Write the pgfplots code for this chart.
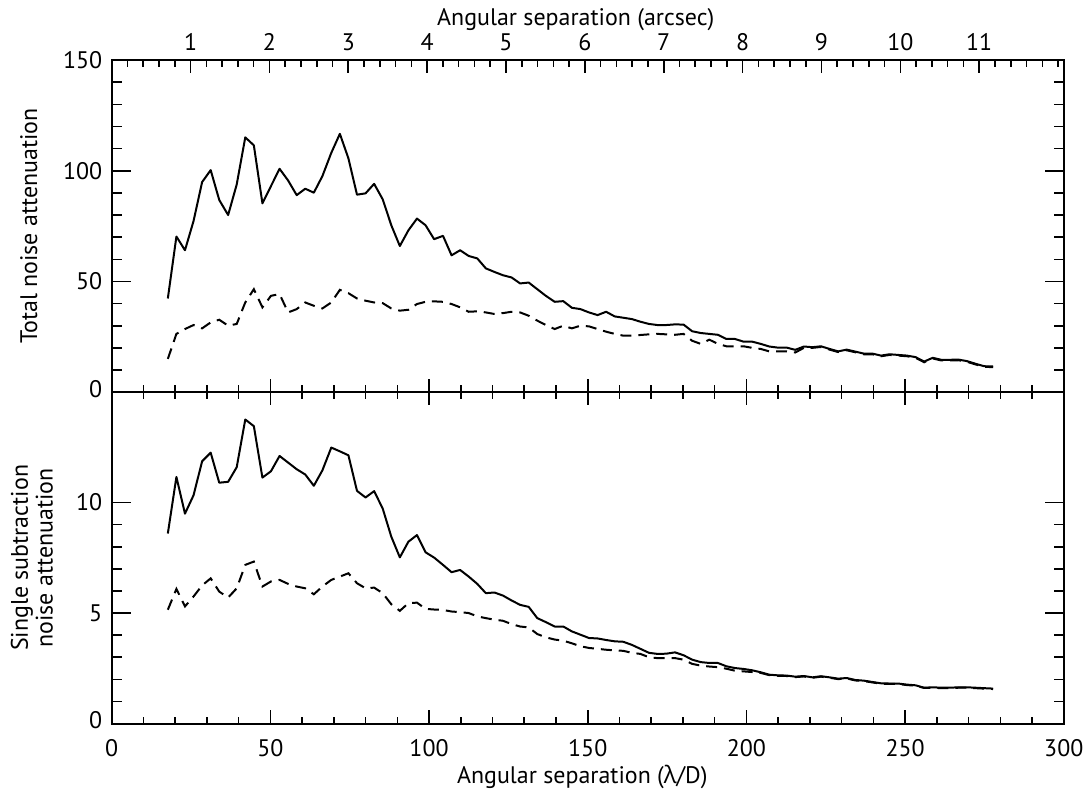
\documentclass[border=0pt]{standalone}
\usepackage{fontspec}
\setmainfont{PT Sans}
\newfontfamily\grfont{Open Sans}
\usepackage{pgfplots}
\usepackage{pgfplotstable}
\pgfplotsset{compat=1.18}

\pgfplotstableread{
x s d
17.7 42.3 15.0
20.4 70.3 26.3
23.1 64.1 28.5
25.8 77.3 30.3
28.5 94.9 28.8
31.2 100.3 31.5
33.9 86.8 32.7
36.7 80.0 30.0
39.4 93.8 30.8
42.1 115.1 40.5
44.8 111.5 46.5
47.5 85.3 38.3
50.2 93.1 43.5
52.9 100.9 44.3
55.6 95.6 36.0
58.3 89.0 37.5
61.0 91.9 40.5
63.7 90.1 39.0
66.4 97.6 37.8
69.2 108.1 40.5
71.9 116.7 46.2
74.6 105.6 44.7
77.3 89.2 42.3
80.0 89.8 41.3
82.7 94.1 40.5
85.4 87.1 40.2
88.1 75.4 37.8
90.8 66.0 36.8
93.5 73.1 37.2
96.2 78.4 39.8
98.9 75.4 40.8
101.6 69.1 41.0
104.4 70.6 40.8
107.1 61.8 39.8
109.8 64.1 38.3
112.5 61.5 36.3
115.2 60.4 36.5
117.9 55.9 36.0
120.6 54.3 35.3
123.3 52.8 35.7
126.0 51.8 36.3
128.7 49.1 36.0
131.4 49.5 34.5
134.1 46.5 32.3
136.8 43.5 30.3
139.6 40.8 28.5
142.3 41.1 30.0
145.0 38.1 28.8
147.7 37.5 30.0
150.4 36.0 29.7
153.1 34.8 28.5
155.8 36.3 27.3
158.5 34.2 26.3
161.2 33.6 25.5
163.9 33.0 25.5
166.6 31.8 25.8
169.3 30.8 26.1
172.0 30.3 26.3
174.7 30.3 26.1
177.5 30.6 25.9
180.2 30.5 26.3
182.9 27.5 23.2
185.6 26.7 21.8
188.3 26.3 23.7
191.0 25.9 21.8
193.7 24.0 20.7
196.4 24.0 20.7
199.1 22.8 20.7
201.8 22.8 20.0
204.5 21.8 19.5
207.2 20.6 18.4
209.9 20.1 18.4
212.7 20.1 18.4
215.4 19.1 17.9
218.1 20.6 20.0
220.8 20.3 20.0
223.5 20.7 20.4
226.2 19.5 19.2
228.9 18.4 18.1
231.6 19.2 18.9
234.3 18.3 18.0
237.0 17.4 17.1
239.7 17.4 17.1
242.4 16.5 16.2
245.1 17.1 16.8
247.8 16.8 16.5
250.6 16.5 16.2
253.3 15.8 15.5
256.0 13.8 13.5
258.7 15.5 15.2
261.4 14.6 14.3
264.1 14.6 14.3
266.8 14.7 14.4
269.5 14.0 13.7
272.2 12.8 12.5
274.9 11.7 11.4
277.7 11.6 11.3
}\toptable

\pgfplotstableread{
x s d
17.7 8.60 5.15
20.4 11.16 6.09
23.1 9.50 5.30
25.8 10.33 5.75
28.5 11.87 6.25
31.2 12.26 6.57
33.9 10.90 5.97
36.7 10.94 5.70
39.4 11.60 6.12
42.1 13.76 7.18
44.8 13.46 7.33
47.5 11.13 6.20
50.2 11.42 6.43
52.9 12.11 6.50
55.6 11.81 6.32
58.3 11.51 6.20
61.0 11.27 6.12
63.7 10.76 5.85
66.4 11.46 6.20
69.2 12.49 6.50
71.9 12.32 6.65
74.6 12.14 6.80
77.3 10.53 6.35
80.0 10.23 6.12
82.7 10.52 6.15
85.4 9.73 5.90
88.1 8.46 5.40
90.8 7.52 5.10
93.5 8.23 5.45
96.2 8.53 5.47
98.9 7.75 5.19
101.6 7.51 5.16
104.4 7.18 5.14
107.1 6.85 5.07
109.8 6.95 5.04
112.5 6.65 5.00
115.2 6.32 4.85
117.9 5.90 4.77
120.6 5.93 4.70
123.3 5.79 4.65
126.0 5.57 4.50
128.7 5.37 4.39
131.4 5.28 4.35
134.1 4.77 4.05
136.8 4.59 3.90
139.6 4.39 3.80
142.3 4.39 3.75
145.0 4.17 3.63
147.7 4.02 3.50
150.4 3.87 3.42
153.1 3.85 3.38
155.8 3.78 3.34
158.5 3.72 3.31
161.2 3.70 3.29
163.9 3.56 3.20
166.6 3.38 3.15
169.3 3.20 3.00
172.0 3.15 2.96
174.7 3.16 2.96
177.5 3.22 2.96
180.2 3.09 2.89
182.9 2.89 2.70
185.6 2.78 2.62
188.3 2.74 2.58
191.0 2.74 2.55
193.7 2.59 2.48
196.4 2.51 2.39
199.1 2.47 2.36
201.8 2.41 2.33
204.5 2.32 2.29
207.2 2.21 2.19
209.9 2.18 2.16
212.7 2.17 2.15
215.4 2.12 2.10
218.1 2.15 2.13
220.8 2.09 2.07
223.5 2.14 2.12
226.2 2.09 2.07
228.9 2.03 2.01
231.6 2.06 2.04
234.3 1.97 1.95
237.0 1.94 1.92
239.7 1.88 1.86
242.4 1.82 1.80
245.1 1.81 1.79
247.8 1.81 1.79
250.6 1.76 1.74
253.3 1.73 1.71
256.0 1.62 1.61
258.7 1.64 1.62
261.4 1.62 1.60
264.1 1.62 1.60
266.8 1.64 1.62
269.5 1.64 1.62
272.2 1.62 1.60
274.9 1.60 1.58
277.7 1.58 1.56
}\bottable

\pgfplotsset{
  panel/.style={
    scale only axis, width=477.5pt,
    xmin=0, xmax=300,
    axis line style={line width=1pt},
    tick align=inside,
    every tick/.style={black, line width=0.8pt},
    xtick style={/pgfplots/major tick length=6.6pt,/pgfplots/minor tick length=3.4pt},
    ytick style={/pgfplots/major tick length=9.5pt,/pgfplots/minor tick length=5pt},
    xtick={0,50,...,300}, minor x tick num=4,
    minor y tick num=4,
    ticklabel style={font=\fontsize{12}{14}\selectfont},
    /pgf/number format/assume math mode=true,
    yticklabel style={anchor=east, inner sep=0pt, xshift=-4.5pt},
    clip=false,
  },
  solidline/.style={black, line width=1pt, line join=round},
  dashline/.style={black, line width=1pt, dash pattern=on 5.5pt off 3.5pt},
}

\begin{document}
\begin{tikzpicture}
% bottom panel
\begin{axis}[panel, at={(0,0)}, anchor=south west, height=166.2pt,
  ymin=0, ymax=15, ytick={0,5,10},
  yticklabels={\raisebox{3.7pt}{0},5,10},
  xticklabel style={anchor=base, yshift=-16.6pt},
  xlabel={Angular separation ({\grfont λ}/D)},
  every axis x label/.style={at={(axis description cs:0.5,0)}, yshift=-30.2pt, xshift=-2.7pt, anchor=base, font=\fontsize{12}{14}\selectfont},
  ylabel={Single subtraction\\noise attenuation},
  every axis y label/.style={at={(axis description cs:0,0.5)}, xshift=-40pt, rotate=90, anchor=center, align=center, font=\fontsize{12}{12.5}\selectfont},
]
\addplot[solidline] table[x=x, y=s] {\bottable};
\addplot[dashline] table[x=x, y=d] {\bottable};
\end{axis}
% top panel
\begin{axis}[panel, at={(0,166.2pt)}, anchor=south west, height=166.5pt,
  ymin=0, ymax=150, ytick={0,50,100,150},
  yticklabels={\raisebox{3.5pt}{0},50,100,\raisebox{-4pt}{150}},
  xtick pos=bottom, xticklabels={},
  ylabel={Total noise attenuation},
  every axis y label/.style={at={(axis description cs:0,0.5)}, xshift=-41.5pt, rotate=90, anchor=center, font=\fontsize{12}{14}\selectfont},
]
\addplot[solidline] table[x=x, y=s] {\toptable};
\addplot[dashline] table[x=x, y=d] {\toptable};
\end{axis}
% top arcsec axis
\begin{axis}[at={(0,166.2pt)}, anchor=south west, scale only axis,
  width=477.5pt, height=166.5pt,
  xmin=0, xmax=300, ymin=0, ymax=1,
  axis x line*=top, axis y line=none,
  axis line style={line width=1pt},
  tick align=inside,
  every tick/.style={black, line width=0.8pt},
  major tick length=6.6pt, minor tick length=3.4pt,
  xtick={24.85,49.7,74.55,99.4,124.25,149.1,173.95,198.8,223.65,248.5,273.35},
  xticklabels={1,2,3,4,5,6,7,8,9,10,11},
  minor xtick={4.97,9.94,...,299},
  ticklabel style={font=\fontsize{12}{14}\selectfont},
  xticklabel style={anchor=base, yshift=4.6pt},
  xlabel={Angular separation (arcsec)},
  every axis x label/.style={at={(axis description cs:0.5,1)}, yshift=17.2pt, xshift=-6pt, anchor=base, font=\fontsize{12}{14}\selectfont},
]
\addplot[draw=none] coordinates {(0,0) (300,1)};
\end{axis}
\path[use as bounding box] (-56pt,-34.65pt) rectangle (489pt,362.85pt);
\end{tikzpicture}
\end{document}
